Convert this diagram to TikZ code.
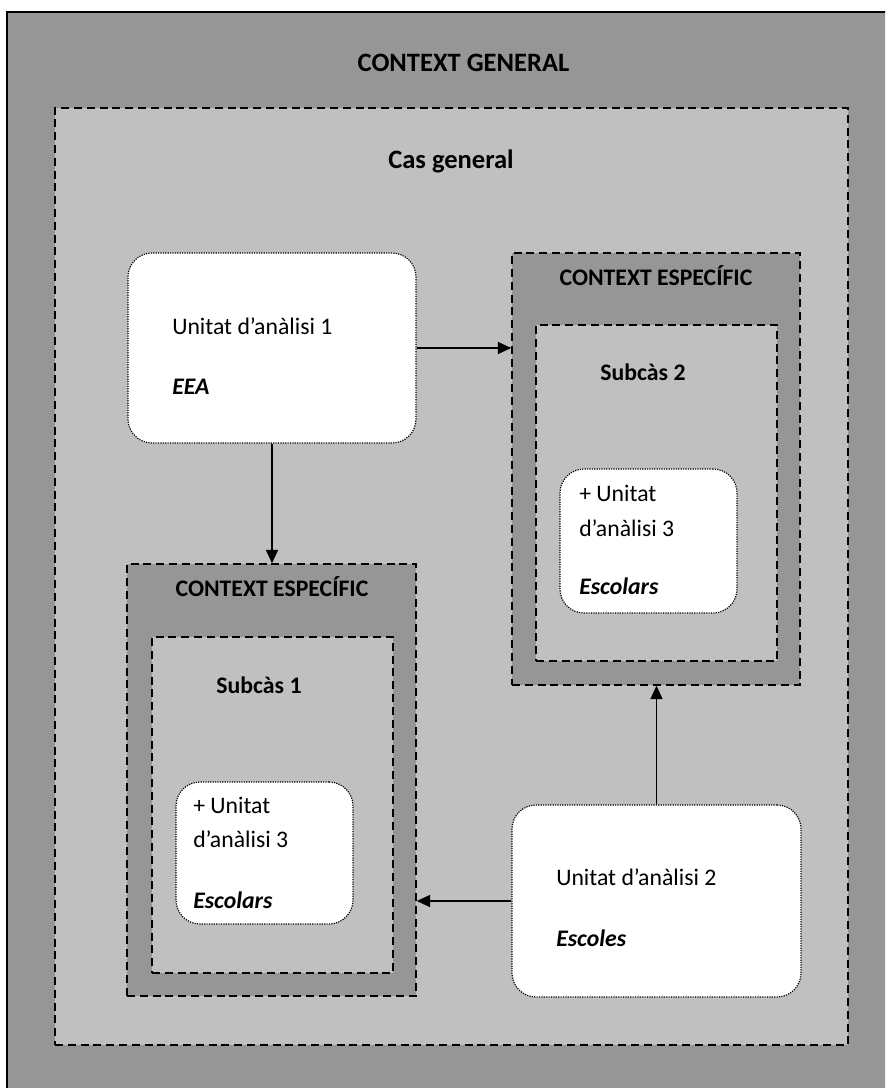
\documentclass[tikz,border=0pt]{standalone}
\usepackage{fontspec}
\setmainfont{Carlito}
\usetikzlibrary{fit,arrows.meta}
\definecolor{darkfill}{RGB}{150,150,150}
\definecolor{lightfill}{RGB}{192,192,192}

\begin{document}
\begin{tikzpicture}[x=0.75pt,y=-0.75pt,
  dashframe/.style={draw, line width=1.1pt, dash pattern=on 6pt off 3.6pt, inner sep=0pt},
  ctxbox/.style={dashframe, fill=darkfill},
  casebox/.style={dashframe, fill=lightfill},
  unitbox/.style={draw, fill=white, line width=0.9pt, dash pattern=on 0.9pt off 0.9pt,
                  rounded corners=18pt, inner sep=0pt},
  heading/.style={anchor=base, inner sep=0pt, font=\bfseries\fontsize{17.8}{21}\selectfont},
  bigheading/.style={heading, font=\bfseries\fontsize{19.9}{24}\selectfont},
  txt/.style={anchor=base west, inner sep=0pt, font=\fontsize{17.8}{21}\selectfont},
  emtxt/.style={txt, font=\bfseries\itshape\fontsize{17.8}{21}\selectfont},
  link/.style={line width=1.1pt, -{Triangle[length=10pt,width=9pt]}}
]
\useasboundingbox (0,0) rectangle (885,1088);
\clip (0,0) rectangle (885,1088);

% general context and the general case
\node[fit={(7,12) (900,1100)}, inner sep=0pt, draw, line width=1.5pt, fill=darkfill] (general) {};
\node[bigheading] (generaltitle) at (463.5,72) {CONTEXT GENERAL};
\node[casebox, fit={(55,108) (848,1045)}] (cas) {};
\node[bigheading] (castitle) at (451,168) {Cas general};

% specific context, subcase 2 (right)
\node[ctxbox, fit={(512,253) (800,685)}] (ce2) {};
\node[heading] (ce2title) at (656,285) {CONTEXT ESPECÍFIC};
\node[casebox, fit={(536,325) (777,661)}] (sub2) {};
\node[heading] (sub2title) at (643,380) {Subcàs 2};
\node[unitbox, fit={(560,469) (737,613)}] (u3b) {};
\node[txt] (u3bl1) at (579,501) {+ Unitat};
\node[txt] (u3bl2) at (579,536) {d’anàlisi 3};
\node[emtxt] (u3bl3) at (579,594) {Escolars};

% specific context, subcase 1 (left)
\node[ctxbox, fit={(127,564) (416,996)}] (ce1) {};
\node[heading] (ce1title) at (272,596) {CONTEXT ESPECÍFIC};
\node[casebox, fit={(152,637) (393,973)}] (sub1) {};
\node[heading] (sub1title) at (259,693) {Subcàs 1};
\node[unitbox, fit={(176,782) (353,924)}] (u3a) {};
\node[txt] (u3al1) at (193,813) {+ Unitat};
\node[txt] (u3al2) at (193,847) {d’anàlisi 3};
\node[emtxt] (u3al3) at (193,908) {Escolars};

% unit of analysis 1
\node[unitbox, fit={(128,253) (416,443)}] (u1) {};
\node[txt] (u1l1) at (172,334) {Unitat d’anàlisi 1};
\node[emtxt] (u1l2) at (172,394) {EEA};

% unit of analysis 2
\node[unitbox, fit={(512,805) (801,997)}] (u2) {};
\node[txt] (u2l1) at (556,885) {Unitat d’anàlisi 2};
\node[emtxt] (u2l2) at (556,946) {Escoles};

% connectors
\draw[link] (u1.east) -- (u1.east -| ce2.west);
\draw[link] (u1.south) -- (u1.south |- ce1.north);
\draw[link] (u2.north) -- (u2.north |- ce2.south);
\draw[link] (u2.west) -- (u2.west -| ce1.east);
\end{tikzpicture}
\end{document}
